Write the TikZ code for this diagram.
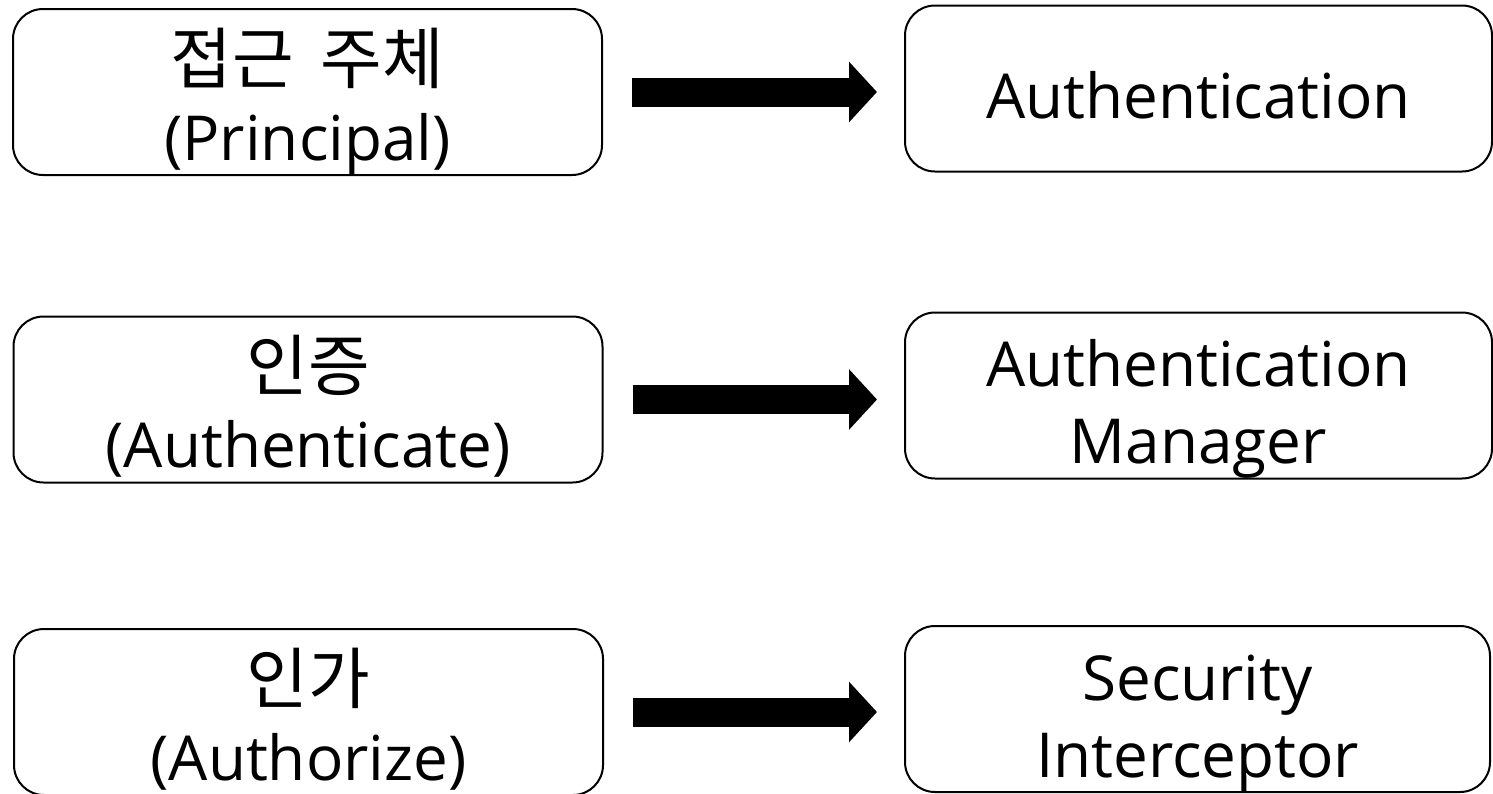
\documentclass[tikz,border=0pt]{standalone}
\usepackage{fontspec}
\setmainfont{Open Sans}
\newfontfamily\kr[WordSpace=1.8]{Noto Sans CJK KR}
\usetikzlibrary{arrows.meta}
% zero-size text blocks, so that every box is laid out from its centre
\newcommand\krline[1]{{\kr\fontsize{67}{77}\selectfont #1}}
\newcommand\twolines[2]{%
  \makebox[0pt]{\raisebox{9pt}[0pt][0pt]{\makebox[0pt]{#1}}%
  \raisebox{-68pt}[0pt][0pt]{\makebox[0pt]{#2}}}}
\newcommand\oneline[1]{\makebox[0pt]{\raisebox{-30pt}[0pt][0pt]{\makebox[0pt]{#1}}}}
\tikzset{
  x=1pt, y=-1pt,
  box/.style={draw=black, line width=2pt, rounded corners=30pt, fill=white,
    minimum width=589pt, minimum height=166pt, inner sep=0pt,
    font=\fontsize{62}{77}\selectfont},
  fatarrow/.style={line width=29pt, line cap=butt,
    -{Triangle[length=28pt,width=59pt]},
    shorten <=29pt, shorten >=27pt}
}
\begin{document}
\begin{tikzpicture}
\useasboundingbox (0,0) rectangle (1493,793);
% left column: concepts
\node[box] (principal) at (307.5,92) {\twolines{\krline{접근 주체}}{(Principal)}};
\node[box] (authn) at (308,399.5) {\twolines{\krline{인증}}{(Authenticate)}};
\node[box] (authz) at (308.5,712) {\twolines{\krline{인가}}{(Authorize)}};
% right column: Spring Security types
\node[box, minimum width=587pt] (authobj) at (1198.5,88.5) {\oneline{Authentication}};
\node[box, minimum width=587pt] (manager) at (1198.5,395.5) {\twolines{Authentication}{Manager}};
\node[box, minimum width=585pt] (interceptor) at (1197.5,709) {\twolines{Security}{Interceptor}};
% mapping arrows
\draw[fatarrow] (principal.east) -- (principal.east -| authobj.west);
\draw[fatarrow] (authn.east) -- (authn.east -| manager.west);
\draw[fatarrow] (authz.east) -- (authz.east -| interceptor.west);
\end{tikzpicture}
\end{document}
